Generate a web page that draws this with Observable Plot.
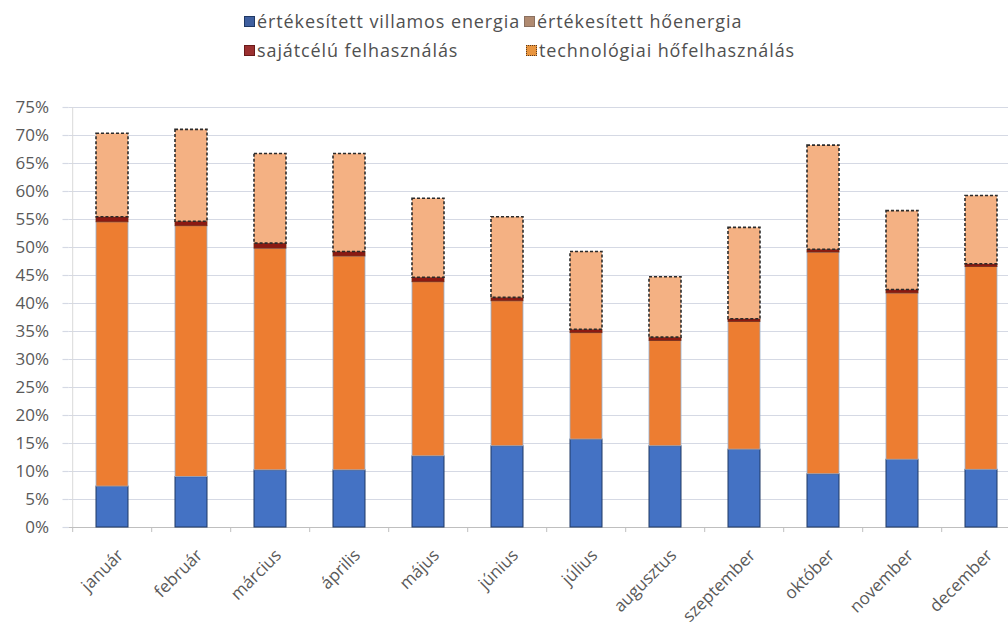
<!DOCTYPE html>
<html><head><meta charset="utf-8">
<script src="https://cdn.jsdelivr.net/npm/d3@7"></script>
<script src="https://cdn.jsdelivr.net/npm/@observablehq/plot@0.6"></script>
<style>
html,body{margin:0;padding:0;background:#fff;overflow:hidden;}
#wrap{width:1008px;height:628px;overflow:hidden;position:relative;font-family:"Open Sans",sans-serif;color:#505050;}
#legend{position:relative;height:90px;font-size:18px;letter-spacing:0.9px;}
.item{position:absolute;display:flex;align-items:center;white-space:nowrap;line-height:20px;height:20px;}
.sw{width:11px;height:11px;margin-right:2px;box-sizing:border-box;flex:none;}
#chart svg{max-width:none !important;display:block;}
</style></head><body>
<div id="wrap"><div id="legend"></div><div id="chart"></div></div>
<script>
// ---- data (percent of total) ----
const months = ["január","február","március","április","május","június","július","augusztus","szeptember","október","november","december"];
const seriesNames = ["értékesített villamos energia","értékesített hőenergia","sajátcélú felhasználás","technológiai hőfelhasználás"];
const villamos   = [7.3, 9.0, 10.2, 10.2, 12.7, 14.5, 15.7, 14.5, 13.9, 9.5, 12.1, 10.3];
const hoenergia  = [47.2, 44.8, 39.6, 38.2, 31.1, 25.9, 19.0, 18.8, 22.8, 39.6, 29.7, 36.2];
const sajatcelu  = [0.9, 0.8, 0.9, 0.8, 0.8, 0.6, 0.6, 0.6, 0.5, 0.5, 0.6, 0.5];
const technologiai = [14.9, 16.4, 16.0, 17.5, 14.1, 14.4, 13.9, 10.8, 16.3, 18.6, 14.1, 12.2];
const yTicks = [0,5,10,15,20,25,30,35,40,45,50,55,60,65,70,75];

// ---- styles ----
const fills = ["#4472C4", "#ED7D31", "#8B1A12", "#F4B183"];
const strokes = ["#1F3864", "#9aaecb", "#7a2a10", "#2b2b2b"];
const legendSwatch = ["#3f5f9f", "#b08a70", "#9b3030", "#e8953f"];
const legendPos = [[244,11],[524,11],[244,40],[526,40]];

// legend
const lg = document.getElementById("legend");
seriesNames.forEach((name,i)=>{
  const it = document.createElement("div");
  it.className="item";
  it.style.left = legendPos[i][0]+"px";
  it.style.top = legendPos[i][1]+"px";
  const sw = document.createElement("span");
  sw.className="sw";
  sw.style.background = legendSwatch[i];
  sw.style.border = i===3 ? "1.5px dotted #5a3a20" : "1px solid " + (i===0?"#1F3864":i===2?"#6a1a1a":"#8a7060");
  it.appendChild(sw);
  const t = document.createElement("span");
  t.textContent = name;
  it.appendChild(t);
  lg.appendChild(it);
});

// stacked segments
const cols = [villamos, hoenergia, sajatcelu, technologiai];
const segs = [[],[],[],[]];
months.forEach((m,j)=>{
  let base = 0;
  cols.forEach((c,i)=>{
    segs[i].push({month:m, y1:base, y2:base + c[j]});
    base += c[j];
  });
});

const step = (1024 - 68.5) / months.length;

const chart = Plot.plot({
  width: 1024,
  height: 538,
  marginLeft: 68.5,
  marginRight: 0,
  marginTop: 17,
  marginBottom: 101,
  style: {fontFamily: "'Open Sans', sans-serif", fontSize: "17px", color: "#595959", background: "#fff"},
  x: {type: "band", domain: months, paddingInner: 0.6, paddingOuter: 0.3, label: null},
  y: {domain: [0, 75], label: null},
  marks: [
    Plot.gridY(yTicks, {stroke: "#d5d9e4", strokeOpacity: 1, strokeWidth: 1.2}),
    Plot.ruleX([0], {x: () => months[0], dx: -step/2, y1: 0, y2: 75, stroke: "#d9d9d9"}),
    Plot.ruleY([0], {stroke: "#bfbfbf", strokeWidth: 1.2}),
    Plot.ruleX(months, {x: d => d, y1: 0, y2: -0.9, dx: -step/2, stroke: "#bfbfbf"}),
    Plot.barY(segs[0], {x: "month", y1: "y1", y2: "y2", fill: fills[0], stroke: strokes[0], strokeWidth: 1}),
    Plot.barY(segs[1], {x: "month", y1: "y1", y2: "y2", fill: fills[1], stroke: strokes[1], strokeWidth: 0.8}),
    Plot.barY(segs[2], {x: "month", y1: "y1", y2: "y2", fill: fills[2], stroke: strokes[2], strokeWidth: 0.8}),
    Plot.barY(segs[3], {x: "month", y1: "y1", y2: "y2", fill: fills[3], stroke: strokes[3], strokeWidth: 1.6, strokeDasharray: "3,2"}),
    Plot.axisY(yTicks, {tickSize: 6, stroke: "#d5d9e4", strokeWidth: 1.2, tickPadding: 14, tickFormat: d => d + "%", fontSize: 17, fill: "#595959", style: {letterSpacing: "0.6px"}}),
    Plot.axisX({tickSize: 0, tickRotate: -45, tickPadding: 25, dx: 8, fontSize: 17, fill: "#595959"})
  ]
});
document.getElementById("chart").appendChild(chart);
</script>
</body></html>
